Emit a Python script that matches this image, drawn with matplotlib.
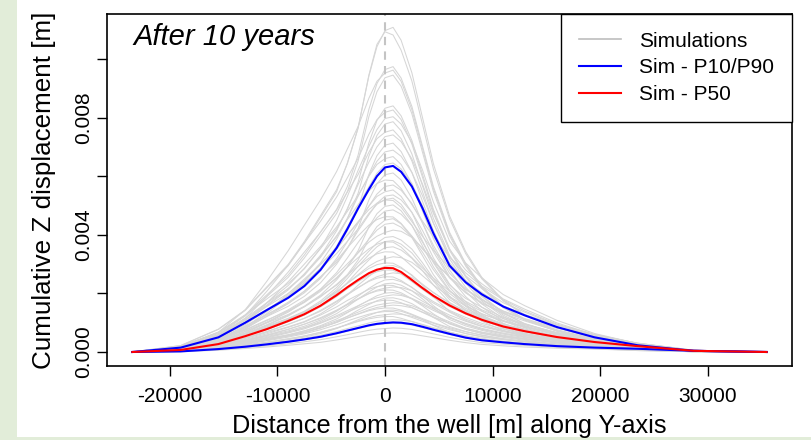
import matplotlib
matplotlib.use("Agg")
import matplotlib.pyplot as plt
from matplotlib.patches import Rectangle
from matplotlib.lines import Line2D

plt.rcParams['font.family'] = ['Liberation Sans', 'DejaVu Sans']

# distance from the well along the Y-axis [m]
x_m = [-23500, -19000, -15500, -13000, -11000, -9000, -7500, -6000, -4500, -3500,
       -2500, -1500, -750, 0, 750, 1500, 2500, 3500, 4500, 6000,
       7500, 9000, 11000, 13000, 16000, 19500, 23500, 28700, 35500]

# simulated cumulative Z displacement, in units of 1e-5 m (one row per simulation)
sim_1e5 = [
    [0, 22, 78, 144, 222, 299, 377, 465, 554, 643, 765, 942, 1042, 1097, 1108, 1064, 953, 798, 643, 465, 343, 255, 177, 127, 83, 50, 22, 4, 0],
    [0, 22, 77, 142, 219, 295, 372, 459, 547, 645, 765, 945, 1050, 1093, 1082, 1030, 925, 775, 625, 455, 336, 250, 174, 125, 82, 49, 22, 4, 0],
    [0, 19, 68, 127, 195, 263, 331, 409, 487, 565, 672, 828, 916, 964, 974, 935, 838, 701, 565, 409, 302, 224, 156, 112, 73, 44, 19, 4, 0],
    [0, 19, 67, 144, 241, 346, 433, 519, 616, 693, 770, 866, 924, 952, 962, 924, 827, 693, 558, 404, 298, 221, 154, 111, 72, 43, 19, 4, 0],
    [0, 19, 66, 123, 189, 255, 321, 397, 473, 548, 652, 803, 888, 936, 945, 907, 813, 680, 548, 397, 293, 217, 151, 109, 71, 43, 19, 4, 0],
    [0, 17, 59, 109, 168, 227, 286, 353, 420, 487, 580, 714, 790, 832, 840, 806, 722, 605, 487, 353, 260, 193, 134, 97, 63, 38, 17, 3, 0],
    [0, 17, 58, 124, 207, 297, 372, 446, 529, 595, 661, 743, 793, 818, 826, 793, 710, 595, 479, 347, 256, 190, 132, 95, 62, 37, 17, 3, 0],
    [0, 19, 63, 126, 181, 234, 284, 354, 449, 531, 620, 702, 759, 797, 803, 778, 715, 620, 512, 379, 304, 253, 196, 158, 108, 63, 29, 5, 0],
    [0, 16, 55, 102, 157, 212, 267, 330, 393, 456, 542, 668, 739, 778, 786, 755, 676, 566, 456, 330, 244, 181, 126, 90, 59, 35, 16, 3, 0],
    [0, 15, 53, 114, 190, 273, 341, 409, 485, 546, 606, 682, 728, 750, 758, 728, 652, 546, 440, 318, 235, 174, 121, 87, 57, 34, 15, 3, 0],
    [0, 18, 59, 116, 167, 216, 262, 327, 414, 490, 572, 648, 700, 735, 741, 718, 659, 572, 473, 350, 280, 233, 181, 146, 99, 59, 27, 4, 0],
    [0, 14, 50, 93, 143, 193, 242, 299, 357, 414, 492, 606, 670, 706, 713, 684, 613, 513, 414, 299, 221, 164, 114, 82, 53, 32, 14, 3, 0],
    [0, 17, 54, 108, 155, 200, 244, 304, 385, 455, 532, 602, 651, 683, 689, 668, 613, 532, 440, 325, 260, 217, 168, 136, 92, 54, 25, 4, 0],
    [0, 13, 47, 100, 167, 240, 300, 360, 427, 480, 534, 600, 640, 660, 667, 640, 574, 480, 387, 280, 207, 153, 107, 77, 50, 30, 13, 3, 0],
    [0, 15, 51, 101, 145, 188, 228, 284, 361, 426, 498, 564, 610, 640, 645, 625, 574, 498, 412, 304, 244, 203, 157, 127, 86, 51, 23, 4, 0],
    [0, 12, 43, 79, 122, 165, 208, 257, 306, 354, 422, 519, 574, 605, 611, 587, 525, 440, 354, 257, 189, 141, 98, 70, 46, 27, 12, 2, 0],
    [0, 14, 55, 110, 160, 217, 264, 323, 397, 452, 503, 550, 575, 587, 585, 558, 503, 446, 393, 325, 270, 225, 178, 140, 95, 60, 30, 6, 0],
    [0, 14, 45, 89, 128, 166, 202, 251, 319, 377, 440, 498, 539, 565, 570, 552, 507, 440, 364, 269, 215, 180, 139, 112, 76, 45, 21, 3, 0],
    [0, 11, 39, 83, 138, 199, 249, 299, 354, 398, 442, 498, 531, 547, 553, 531, 476, 398, 321, 232, 171, 127, 88, 64, 41, 25, 11, 2, 0],
    [0, 13, 42, 84, 121, 156, 190, 236, 300, 354, 414, 468, 507, 532, 536, 519, 477, 414, 342, 253, 203, 169, 131, 106, 72, 42, 19, 3, 0],
    [0, 11, 37, 79, 131, 189, 236, 284, 336, 378, 420, 473, 504, 520, 525, 504, 452, 378, 305, 221, 163, 121, 84, 60, 39, 24, 11, 2, 0],
    [0, 12, 49, 98, 141, 192, 233, 286, 351, 400, 445, 486, 508, 519, 517, 494, 445, 394, 347, 288, 239, 199, 157, 128, 92, 58, 30, 6, 0],
    [0, 10, 35, 65, 100, 136, 171, 211, 251, 291, 346, 427, 472, 497, 502, 482, 432, 361, 291, 211, 156, 115, 80, 58, 38, 23, 10, 2, 0],
    [0, 12, 38, 76, 109, 141, 172, 214, 271, 321, 374, 424, 458, 481, 485, 470, 432, 374, 309, 229, 183, 153, 118, 96, 65, 38, 17, 3, 0],
    [0, 11, 43, 87, 126, 170, 207, 255, 312, 356, 396, 433, 452, 462, 461, 439, 396, 351, 309, 256, 213, 177, 140, 114, 82, 52, 28, 6, 0],
    [0, 9, 32, 59, 91, 123, 155, 191, 228, 264, 314, 387, 428, 450, 455, 437, 391, 328, 264, 191, 141, 105, 73, 52, 34, 20, 9, 2, 0],
    [0, 11, 35, 69, 99, 128, 156, 194, 246, 291, 340, 385, 416, 436, 440, 426, 392, 340, 281, 208, 166, 139, 107, 87, 59, 35, 16, 3, 0],
    [0, 8, 41, 74, 107, 144, 177, 214, 264, 301, 338, 375, 395, 408, 416, 412, 391, 354, 313, 255, 202, 165, 136, 111, 82, 58, 30, 6, 0],
    [0, 9, 31, 62, 89, 115, 139, 174, 220, 260, 304, 344, 372, 391, 394, 382, 351, 304, 251, 186, 149, 124, 96, 78, 53, 31, 14, 2, 0],
    [0, 9, 30, 60, 86, 111, 135, 168, 212, 251, 293, 332, 359, 377, 380, 368, 338, 293, 242, 179, 144, 120, 93, 75, 51, 30, 14, 2, 0],
    [0, 9, 35, 71, 102, 139, 169, 207, 254, 290, 322, 352, 368, 376, 375, 358, 322, 286, 252, 208, 173, 144, 114, 93, 67, 44, 24, 5, 0],
    [0, 9, 28, 56, 81, 104, 127, 158, 201, 237, 277, 314, 339, 356, 359, 348, 320, 277, 229, 169, 136, 113, 88, 71, 48, 28, 13, 2, 0],
    [0, 8, 32, 64, 93, 126, 154, 188, 231, 263, 293, 320, 335, 342, 341, 325, 293, 260, 229, 189, 157, 131, 104, 84, 61, 40, 22, 5, 0],
    [0, 7, 32, 58, 84, 113, 138, 167, 206, 235, 264, 293, 309, 319, 325, 322, 306, 277, 244, 200, 158, 129, 106, 87, 64, 46, 24, 5, 0],
    [0, 7, 29, 57, 83, 112, 136, 168, 206, 234, 261, 285, 298, 304, 303, 289, 261, 231, 203, 168, 140, 116, 92, 75, 54, 36, 20, 4, 0],
    [0, 7, 23, 46, 66, 86, 104, 130, 165, 195, 228, 258, 279, 293, 295, 286, 263, 228, 188, 139, 112, 93, 72, 58, 40, 23, 11, 2, 0],
    [0, 7, 26, 53, 76, 103, 126, 154, 189, 216, 240, 262, 274, 280, 279, 266, 240, 213, 187, 155, 129, 107, 85, 69, 50, 33, 20, 4, 0],
    [0, 5, 27, 48, 69, 94, 115, 139, 171, 195, 219, 243, 257, 265, 270, 267, 254, 230, 203, 166, 131, 107, 88, 72, 53, 38, 20, 4, 0],
    [0, 6, 24, 48, 70, 95, 115, 142, 174, 198, 220, 241, 252, 257, 256, 244, 220, 195, 172, 142, 118, 98, 78, 63, 46, 30, 17, 4, 0],
    [0, 6, 20, 39, 56, 72, 88, 109, 139, 164, 191, 217, 234, 246, 248, 240, 221, 191, 158, 117, 94, 78, 61, 49, 33, 20, 9, 2, 0],
    [0, 6, 19, 37, 53, 68, 83, 104, 131, 155, 181, 205, 222, 233, 235, 228, 209, 181, 150, 111, 89, 74, 57, 46, 31, 19, 8, 1, 0],
    [0, 5, 21, 43, 62, 84, 102, 126, 154, 176, 195, 214, 223, 228, 227, 217, 195, 173, 153, 126, 105, 87, 69, 56, 41, 27, 16, 3, 0],
    [0, 4, 22, 40, 57, 77, 95, 114, 141, 161, 180, 200, 211, 218, 222, 220, 209, 189, 167, 136, 108, 88, 73, 59, 44, 32, 17, 3, 0],
    [0, 5, 20, 40, 58, 78, 95, 117, 143, 163, 182, 199, 208, 212, 211, 202, 182, 161, 142, 117, 98, 81, 64, 52, 38, 25, 14, 3, 0],
    [0, 5, 16, 32, 46, 59, 72, 90, 113, 134, 157, 177, 192, 201, 203, 197, 181, 157, 130, 96, 77, 64, 50, 40, 27, 16, 7, 1, 0],
    [0, 4, 19, 35, 50, 68, 83, 100, 124, 141, 158, 176, 185, 191, 195, 193, 183, 166, 147, 120, 95, 77, 64, 52, 39, 28, 15, 3, 0],
    [0, 4, 15, 29, 42, 54, 65, 82, 103, 122, 143, 162, 175, 184, 185, 179, 165, 143, 118, 87, 70, 58, 45, 36, 25, 15, 7, 1, 0],
    [0, 4, 17, 33, 48, 65, 79, 98, 120, 136, 152, 166, 173, 177, 176, 168, 152, 135, 118, 98, 81, 68, 54, 44, 32, 21, 12, 2, 0],
    [0, 3, 17, 30, 43, 58, 72, 87, 107, 121, 136, 151, 160, 165, 168, 166, 158, 143, 126, 103, 81, 67, 55, 45, 33, 25, 13, 3, 0],
    [0, 3, 16, 28, 41, 56, 68, 82, 101, 116, 130, 144, 152, 157, 160, 158, 151, 136, 120, 98, 78, 63, 52, 43, 32, 24, 13, 2, 0],
    [0, 4, 14, 28, 41, 55, 67, 83, 101, 116, 129, 141, 147, 150, 150, 143, 129, 114, 100, 83, 69, 57, 45, 37, 27, 18, 11, 2, 0],
    [0, 3, 11, 22, 32, 42, 51, 63, 80, 95, 110, 125, 135, 142, 143, 139, 127, 110, 91, 67, 54, 45, 35, 28, 19, 11, 5, 1, 0],
    [0, 3, 13, 26, 38, 51, 62, 76, 93, 106, 118, 129, 135, 138, 138, 131, 118, 105, 92, 76, 63, 53, 42, 34, 25, 16, 10, 2, 0],
    [0, 3, 13, 23, 33, 45, 55, 67, 82, 94, 106, 117, 124, 127, 130, 129, 122, 111, 98, 80, 63, 51, 43, 35, 26, 19, 10, 2, 0],
    [0, 3, 11, 23, 33, 45, 54, 67, 82, 93, 104, 113, 118, 121, 121, 115, 104, 92, 81, 67, 56, 46, 37, 30, 22, 14, 8, 2, 0],
    [0, 2, 11, 20, 28, 38, 47, 57, 70, 80, 89, 99, 105, 108, 110, 109, 104, 94, 83, 68, 53, 44, 36, 29, 22, 16, 9, 2, 0],
    [0, 2, 10, 17, 25, 34, 42, 50, 62, 71, 80, 88, 93, 96, 98, 97, 92, 83, 74, 60, 48, 39, 32, 26, 19, 15, 8, 2, 0],
    [0, 2, 8, 15, 21, 28, 35, 42, 52, 59, 67, 74, 78, 80, 82, 81, 77, 70, 62, 50, 40, 32, 27, 22, 16, 12, 7, 1, 0],
    [0, 1, 6, 12, 17, 23, 28, 33, 41, 47, 53, 59, 62, 64, 65, 64, 61, 55, 49, 40, 32, 26, 21, 17, 13, 10, 5, 1, 0],
]

# percentile curves, in units of 1e-5 m
p10_1e5 = [0, 2, 10, 18, 26, 35, 43, 52, 64, 73, 82, 91, 96, 99, 101, 100, 95, 86, 76, 62, 49, 40, 33, 27, 20, 15, 11, 4, 0]
p50_1e5 = [0, 7, 27, 54, 78, 106, 129, 158, 194, 221, 246, 269, 281, 287, 286, 273, 246, 218, 192, 159, 132, 110, 87, 71, 51, 34, 20, 4, 0]
p90_1e5 = [0, 15, 50, 100, 143, 185, 225, 280, 355, 420, 490, 555, 600, 630, 635, 615, 565, 490, 405, 295, 238, 197, 155, 125, 85, 50, 23, 4, 0]

x_ticks = [-20000, -10000, 0, 10000, 20000, 30000]
x_tick_labels = ["-20000", "-10000", "0", "10000", "20000", "30000"]
y_ticks = [0.000, 0.002, 0.004, 0.006, 0.008, 0.010]
y_tick_labels = ["0.000", "", "0.004", "", "0.008", ""]

legend_labels = ["Simulations", "Sim - P10/P90", "Sim - P50"]

W, H = 811, 440
fig = plt.figure(figsize=(W / 100, H / 100), dpi=100)
fig.patch.set_facecolor("white")
fig.patches.append(Rectangle((0, 0), 17 / W, 1, transform=fig.transFigure,
                             facecolor="#E2EDD9", edgecolor="none", zorder=-5))
fig.patches.append(Rectangle((0, 0), 1, 3 / H, transform=fig.transFigure,
                             facecolor="#E2EDD9", edgecolor="none", zorder=-5))

L, R, T, B = 107, 792, 14, 366
ax = fig.add_axes([L / W, 1 - B / H, (R - L) / W, (B - T) / H])

to_m = 1e-5
for row in sim_1e5:
    ax.plot(x_m, [v * to_m for v in row], color="#D6D6D6", lw=0.75, zorder=1)

ax.axvline(0, color="#C4C4C4", lw=1.5, dashes=(4, 3), zorder=2)

ax.plot(x_m, [v * to_m for v in p10_1e5], color="#0000FF", lw=1.5, zorder=3)
ax.plot(x_m, [v * to_m for v in p90_1e5], color="#0000FF", lw=1.5, zorder=3)
ax.plot(x_m, [v * to_m for v in p50_1e5], color="#FF0000", lw=1.5, zorder=4)

ax.set_xlim(-25860, 37860)
ax.set_ylim(-0.000478, 0.011536)

ax.set_xticks(x_ticks)
ax.set_xticklabels(x_tick_labels)
ax.set_yticks(y_ticks)
ax.set_yticklabels(y_tick_labels, rotation=90, va="center")

ax.tick_params(axis="both", length=7, width=1, labelsize=15, colors="black")
ax.tick_params(axis="x", pad=8)
ax.tick_params(axis="y", pad=3)
for s in ax.spines.values():
    s.set_linewidth(1.2)

ax.text(0.038, 0.912, "After 10 years", transform=ax.transAxes, fontsize=21,
        style="italic", ha="left", va="baseline")

handles = [Line2D([], [], color="#BEBEBE", lw=1.2),
           Line2D([], [], color="#0000FF", lw=1.5),
           Line2D([], [], color="#FF0000", lw=1.5)]
leg = ax.legend(handles, legend_labels, loc="upper right", bbox_to_anchor=(1, 1),
                borderaxespad=0, fancybox=False, edgecolor="black", fontsize=15,
                handlelength=2.0, handletextpad=0.9, labelspacing=0.37,
                borderpad=0.85, framealpha=1)
leg.get_frame().set_linewidth(1.0)

fig.text(449 / W, 1 - 433 / H, "Distance from the well [m] along Y-axis",
         fontsize=18.2, ha="center", va="baseline")
fig.text(44 / W, 1 - 190 / H, "Cumulative Z displacement [m]",
         fontsize=18.7, ha="center", va="center", rotation=90)

fig.savefig("out.png", dpi=100)
